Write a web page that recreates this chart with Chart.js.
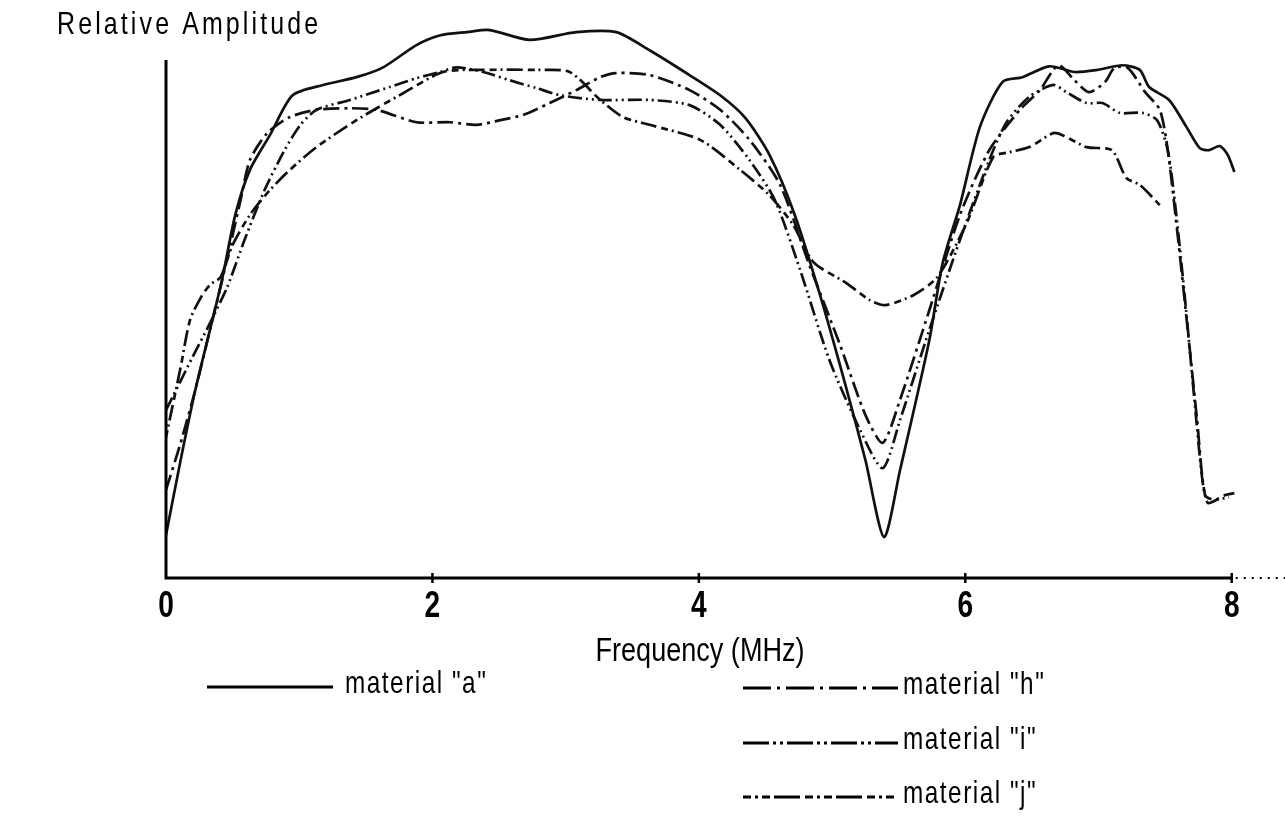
<!DOCTYPE html>
<html>
<head>
<meta charset="utf-8">
<title>Relative Amplitude vs Frequency</title>
<script src="https://cdn.jsdelivr.net/npm/chart.js@4.4.1/dist/chart.umd.min.js"></script>
<style>
  body { margin: 0; background: #fff; }
  #wrap { width: 1285px; height: 830px; }
</style>
</head>
<body>
<div id="wrap"><canvas id="freqChart" width="1285" height="830"></canvas></div>
<script>
// values (frequency in MHz, amplitude on an arbitrary 0-100 scale)
const xTicks = [0, 2, 4, 6, 8];

const freqA = [0, 0.11, 0.22, 0.33, 0.42, 0.52, 0.63, 0.78, 0.95, 1.18, 1.43, 1.63, 1.88, 2.06, 2.26, 2.43, 2.73, 3.08, 3.38, 3.63, 3.93, 4.16, 4.35, 4.53, 4.72, 4.91, 5.10, 5.25, 5.39, 5.51, 5.73, 5.83, 5.96, 6.11, 6.28, 6.43, 6.63, 6.82, 6.99, 7.18, 7.31, 7.38, 7.53, 7.66, 7.76, 7.83, 7.91, 7.97, 8.02];
const ampA  = [8.3, 22.8, 36.3, 47.9, 57.5, 70.1, 78.8, 85.5, 93.2, 95.2, 96.7, 98.6, 102.9, 104.8, 105.4, 105.8, 103.9, 105.4, 105.4, 101.9, 97.1, 93.2, 88.8, 81.7, 70.1, 54.6, 37.3, 22.8, 7.9, 20.8, 45.9, 60.8, 72.0, 87.1, 95.8, 96.7, 98.8, 97.7, 98.1, 99.0, 98.1, 94.8, 92.3, 87.1, 83.0, 82.6, 83.4, 81.7, 78.4];

const freqH = [0, 0.11, 0.22, 0.33, 0.44, 0.56, 0.63, 0.76, 0.93, 1.13, 1.38, 1.58, 1.88, 2.13, 2.33, 2.51, 2.68, 2.88, 3.08, 3.26, 3.38, 3.63, 3.93, 4.16, 4.38, 4.61, 4.83, 5.06, 5.25, 5.38, 5.51, 5.73, 5.96, 6.18, 6.41, 6.56, 6.66, 6.71, 6.82, 6.93, 7.05, 7.12, 7.22, 7.35, 7.46, 7.52, 7.59, 7.67, 7.74, 7.80, 7.87, 7.95, 8.02];
const ampH  = [17.0, 26.1, 36.3, 47.9, 59.5, 73.0, 80.7, 85.9, 89.0, 90.4, 90.7, 90.4, 88.0, 88.0, 87.5, 88.4, 89.4, 91.7, 94.2, 96.7, 97.5, 97.1, 94.2, 90.4, 84.6, 75.9, 60.4, 45.0, 31.5, 26.1, 34.4, 51.7, 70.1, 82.6, 90.4, 94.2, 98.1, 99.0, 96.1, 93.8, 95.8, 98.5, 98.5, 93.8, 90.4, 82.6, 67.2, 47.9, 30.5, 16.0, 15.1, 16.0, 16.4];

const freqI = [0, 0.20, 0.33, 0.46, 0.59, 0.74, 0.89, 1.01, 1.13, 1.38, 1.68, 1.88, 2.06, 2.18, 2.38, 2.58, 2.78, 2.96, 3.26, 3.63, 3.93, 4.16, 4.38, 4.57, 4.76, 4.98, 5.21, 5.38, 5.51, 5.73, 5.96, 6.18, 6.31, 6.48, 6.66, 6.76, 6.91, 7.03, 7.16, 7.33, 7.44, 7.52, 7.58, 7.65, 7.72, 7.78, 7.82, 7.89, 7.98];
const ampI  = [32.4, 42.7, 49.2, 56.2, 65.3, 74.9, 82.6, 87.5, 90.4, 92.3, 94.8, 96.5, 97.7, 98.6, 97.7, 96.1, 94.6, 93.2, 92.3, 92.3, 91.3, 87.5, 80.7, 73.0, 59.5, 42.1, 28.6, 21.2, 30.5, 47.9, 65.3, 80.7, 88.0, 92.9, 95.2, 93.8, 91.7, 91.7, 89.8, 89.8, 88.4, 82.6, 71.0, 53.7, 34.4, 18.9, 14.5, 15.1, 15.6];

const freqJ = [0, 0.11, 0.18, 0.26, 0.33, 0.41, 0.50, 0.63, 0.78, 0.93, 1.13, 1.43, 1.78, 2.08, 2.38, 2.78, 3.03, 3.26, 3.43, 3.63, 4.01, 4.31, 4.53, 4.71, 4.86, 5.11, 5.28, 5.40, 5.61, 5.79, 6.01, 6.21, 6.33, 6.48, 6.66, 6.73, 6.91, 7.10, 7.21, 7.31, 7.46];
const ampJ  = [27.2, 40.7, 49.8, 54.1, 56.6, 58.1, 64.3, 70.1, 74.9, 78.8, 83.2, 88.4, 93.6, 97.7, 98.1, 98.1, 97.7, 92.3, 89.0, 87.5, 84.6, 78.8, 73.9, 68.1, 61.0, 56.9, 53.7, 52.7, 54.6, 58.1, 68.5, 81.3, 82.2, 83.2, 85.9, 85.5, 83.2, 82.6, 77.2, 75.9, 72.0];

const labels = ['material "a"', 'material "h"', 'material "i"', 'material "j"'];

const face = "'Liberation Sans', Arial, sans-serif";

function toPoints(xs, ys) {
  return xs.map((x, i) => ({ x: x, y: ys[i] }));
}

function series(label, xs, ys, dash, legendDash) {
  return {
    label: label,
    data: toPoints(xs, ys),
    borderColor: '#111',
    borderWidth: 2.7,
    borderDash: dash,
    legendDash: legendDash,
    pointRadius: 0,
    tension: 0.25,
    fill: false
  };
}

// the old typeset lettering is condensed, so squeeze the text sideways
function drawNarrow(ctx, text, x, y, font, squeeze, spacing, align) {
  ctx.save();
  ctx.font = font;
  ctx.letterSpacing = spacing + 'px';
  const w = ctx.measureText(text).width * squeeze;
  const left = align === 'center' ? x - w / 2 : x;
  ctx.translate(left, y);
  ctx.scale(squeeze, 1);
  ctx.textAlign = 'left';
  ctx.textBaseline = 'middle';
  ctx.fillText(text, 0, 0);
  ctx.restore();
}

// axes, labels and the two-column legend are drawn by hand like the original figure
const paperPlugin = {
  id: 'paper',
  afterDraw(chart) {
    const ctx = chart.ctx;
    const x = chart.scales.x;
    const y = chart.scales.y;
    const y0 = y.getPixelForValue(0);
    const yTop = y.getPixelForValue(100);
    const x0 = x.getPixelForValue(0);
    const xLast = x.getPixelForValue(xTicks[xTicks.length - 1]);
    const xEnd = x.getPixelForValue(x.max);

    ctx.save();
    ctx.strokeStyle = '#000';
    ctx.fillStyle = '#000';
    ctx.lineWidth = 3;
    ctx.beginPath();
    ctx.moveTo(x0, yTop);
    ctx.lineTo(x0, y0);
    ctx.lineTo(xLast, y0);
    ctx.stroke();

    ctx.lineWidth = 2;
    ctx.setLineDash([2, 6]);
    ctx.beginPath();
    ctx.moveTo(xLast + 4, y0);
    ctx.lineTo(xEnd, y0);
    ctx.stroke();
    ctx.setLineDash([]);

    // little tick marks across the axis, with bold numbers under them
    ctx.lineWidth = 2.5;
    xTicks.forEach(function (t) {
      const px = x.getPixelForValue(t);
      if (t > 0) {
        ctx.beginPath();
        ctx.moveTo(px, y0 - 5);
        ctx.lineTo(px, y0 + 5);
        ctx.stroke();
      }
      drawNarrow(ctx, String(t), px, y0 + 29, 'bold 36px ' + face, 0.78, 0, 'center');
    });

    drawNarrow(ctx, 'Relative Amplitude', 57, 25, '32px ' + face, 0.78, 4, 'left');
    drawNarrow(ctx, 'Frequency (MHz)', 700, 652, '33px ' + face, 0.82, 0, 'center');

    // legend: "a" on the left, h/i/j stacked on the right
    const spots = [
      { x1: 207, x2: 333, tx: 345, ty: 687 },
      { x1: 743, x2: 898, tx: 903, ty: 688 },
      { x1: 743, x2: 898, tx: 903, ty: 743 },
      { x1: 743, x2: 898, tx: 903, ty: 797 }
    ];
    chart.data.datasets.forEach(function (ds, i) {
      const s = spots[i];
      ctx.lineWidth = 3;
      ctx.setLineDash(ds.legendDash || []);
      ctx.beginPath();
      ctx.moveTo(s.x1, s.ty);
      ctx.lineTo(s.x2, s.ty);
      ctx.stroke();
      ctx.setLineDash([]);
      drawNarrow(ctx, ds.label, s.tx, s.ty - 3, '32px ' + face, 0.76, 2, 'left');
    });
    ctx.restore();
  }
};

new Chart(document.getElementById('freqChart'), {
  type: 'line',
  data: {
    datasets: [
      series(labels[0], freqA, ampA, [], []),
      series(labels[1], freqH, ampH, [16, 5, 3, 5], [28, 6, 3, 6]),
      series(labels[2], freqI, ampI, [14, 4, 2, 4, 2, 4], [26, 4, 3, 4, 3, 4]),
      series(labels[3], freqJ, ampJ, [7, 4, 2, 4, 16, 5], [8, 4, 3, 4, 8, 4, 26, 5])
    ]
  },
  options: {
    responsive: false,
    animation: false,
    layout: { padding: { left: 166, right: 0, top: 0, bottom: 0 } },
    plugins: {
      legend: { display: false },
      tooltip: { enabled: false }
    },
    scales: {
      x: {
        type: 'linear',
        min: 0,
        max: 8.4,
        grid: { display: false, drawTicks: false },
        border: { display: false },
        afterFit: function (scale) { scale.height = 252; },
        ticks: { display: false }
      },
      y: {
        display: false,
        min: 0,
        max: 111.6
      }
    }
  },
  plugins: [paperPlugin]
});
</script>
</body>
</html>
